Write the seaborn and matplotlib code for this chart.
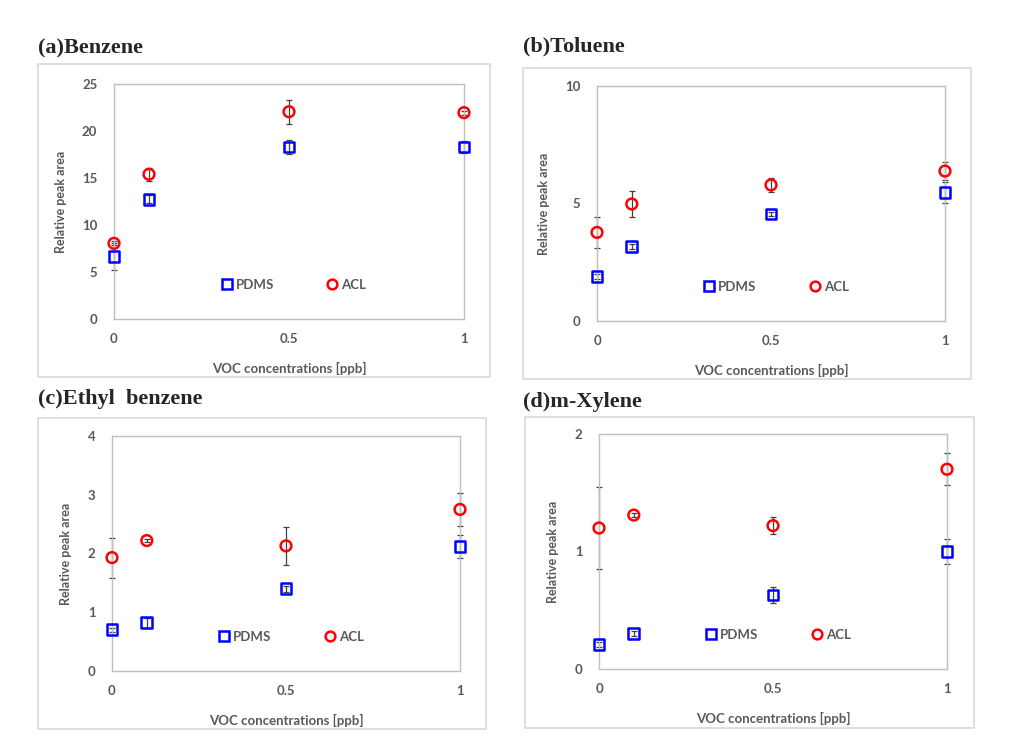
import numpy as np
import pandas as pd
import matplotlib
matplotlib.use("Agg")
import matplotlib.pyplot as plt
import seaborn as sns
from matplotlib.lines import Line2D
from matplotlib.patches import Rectangle

sns.set_style("white")
plt.rcParams['font.family'] = ['Lato', 'DejaVu Sans']

# data
conc = [0, 0.1, 0.5, 1]
fibers = ["PDMS", "ACL"]

benzene_pdms = [6.65, 12.75, 18.3, 18.3]
benzene_pdms_err = [1.4, 0.4, 0.75, 0.65]
benzene_acl = [8.05, 15.4, 22.05, 21.95]
benzene_acl_err = [0.2, 0.68, 1.3, 0.2]

toluene_pdms = [1.9, 3.18, 4.55, 5.46]
toluene_pdms_err = [0.1, 0.1, 0.1, 0.44]
toluene_acl = [3.77, 4.98, 5.79, 6.38]
toluene_acl_err = [0.66, 0.55, 0.3, 0.38]

ethyl_pdms = [0.70, 0.82, 1.40, 2.12]
ethyl_pdms_err = [0.03, 0.08, 0.05, 0.19]
ethyl_acl = [1.93, 2.22, 2.13, 2.75]
ethyl_acl_err = [0.34, 0.03, 0.32, 0.28]

xylene_pdms = [0.21, 0.30, 0.63, 1.0]
xylene_pdms_err = [0.02, 0.02, 0.065, 0.11]
xylene_acl = [1.20, 1.31, 1.22, 1.70]
xylene_acl_err = [0.35, 0.015, 0.07, 0.135]

titles = ["(a)Benzene", "(b)Toluene", "(c)Ethyl  benzene", "(d)m-Xylene"]
yticks = [[0, 5, 10, 15, 20, 25], [0, 5, 10], [0, 1, 2, 3, 4], [0, 1, 2]]
xticks = [0, 0.5, 1]
xticklabels = ["0", "0.5", "1"]

panels = [
    (benzene_pdms, benzene_pdms_err, benzene_acl, benzene_acl_err),
    (toluene_pdms, toluene_pdms_err, toluene_acl, toluene_acl_err),
    (ethyl_pdms, ethyl_pdms_err, ethyl_acl, ethyl_acl_err),
    (xylene_pdms, xylene_pdms_err, xylene_acl, xylene_acl_err),
]

W, H = 1016, 738
# pixel layout: frame box, axes box, title position
frames = [(38, 64, 490, 377), (523, 68, 971, 379), (38, 418, 486, 729), (525, 417, 974, 728)]
axboxes = [(114, 84, 464, 319), (597, 86, 945, 321), (112, 436, 460, 671), (599, 434, 947, 669)]
title_pos = [(38, 48), (523, 46), (38, 399), (523, 402)]

colors = {"PDMS": "#0000ff", "ACL": "#ff0000"}
markers = {"PDMS": "s", "ACL": "o"}
grey = "#595959"

fig = plt.figure(figsize=(W / 100, H / 100), dpi=100)

for i in range(4):
    x0, y0, x1, y1 = frames[i]
    fig.patches.append(Rectangle((x0 / W, 1 - y1 / H), (x1 - x0) / W, (y1 - y0) / H,
                                 transform=fig.transFigure, fill=False,
                                 edgecolor="#d9d9d9", linewidth=1.2))
    tx, ty = title_pos[i]
    fig.text(tx / W, 1 - ty / H, titles[i], family="Liberation Serif",
             fontweight="bold", fontsize=16, va="center", ha="left")

    a0, b0, a1, b1 = axboxes[i]
    ax = fig.add_axes([a0 / W, 1 - b1 / H, (a1 - a0) / W, (b1 - b0) / H])

    pdms, pdms_err, acl, acl_err = panels[i]
    df = pd.DataFrame({
        "conc": conc + conc,
        "area": pdms + acl,
        "err": pdms_err + acl_err,
        "fiber": ["PDMS"] * 4 + ["ACL"] * 4,
    })

    for f in fibers:
        d = df[df.fiber == f]
        ax.errorbar(d.conc, d.area, yerr=d.err, fmt="none", ecolor="#404040",
                    elinewidth=0.9, capsize=2.5, capthick=0.9, clip_on=False, zorder=2)

    sns.scatterplot(data=df, x="conc", y="area", hue="fiber", style="fiber",
                    palette=colors, markers=markers, s=60, linewidth=1.8,
                    legend=False, ax=ax, zorder=3, clip_on=False)
    pts = ax.collections[-1]
    fc = pts.get_facecolors()
    pts.set_edgecolors(fc)
    pts.set_facecolors("none")

    ax.set_xlim(0, 1)
    ax.set_ylim(0, yticks[i][-1])
    ax.set_xticks(xticks)
    ax.set_xticklabels(xticklabels)
    ax.set_yticks(yticks[i])
    ax.tick_params(length=0, labelsize=9.5, labelcolor=grey)
    ax.tick_params(axis="x", pad=10)
    ax.tick_params(axis="y", pad=12)
    for lab in ax.get_xticklabels() + ax.get_yticklabels():
        lab.set_fontweight("bold")
    for sp in ax.spines.values():
        sp.set_visible(True)
        sp.set_color("#bfbfbf")
        sp.set_linewidth(1)

    ax.set_xlabel("VOC concentrations [ppb]", fontsize=9.5, color=grey,
                  fontweight="bold", labelpad=12)
    ax.set_ylabel("Relative peak area", fontsize=9, color=grey,
                  fontweight="bold", labelpad=11)

    handles = [Line2D([], [], ls="", marker=markers[f], markersize=7,
                      markerfacecolor="none", markeredgecolor=colors[f],
                      markeredgewidth=1.8) for f in fibers]
    leg = ax.legend(handles, fibers, loc="center left", bbox_to_anchor=(0.303, 0.145),
                    ncol=2, frameon=False, handlelength=1, handletextpad=0.2,
                    columnspacing=3.9, borderpad=0, borderaxespad=0,
                    prop={"size": 9.5, "weight": "bold"})
    for t in leg.get_texts():
        t.set_color(grey)

fig.savefig("out.png", dpi=100)
